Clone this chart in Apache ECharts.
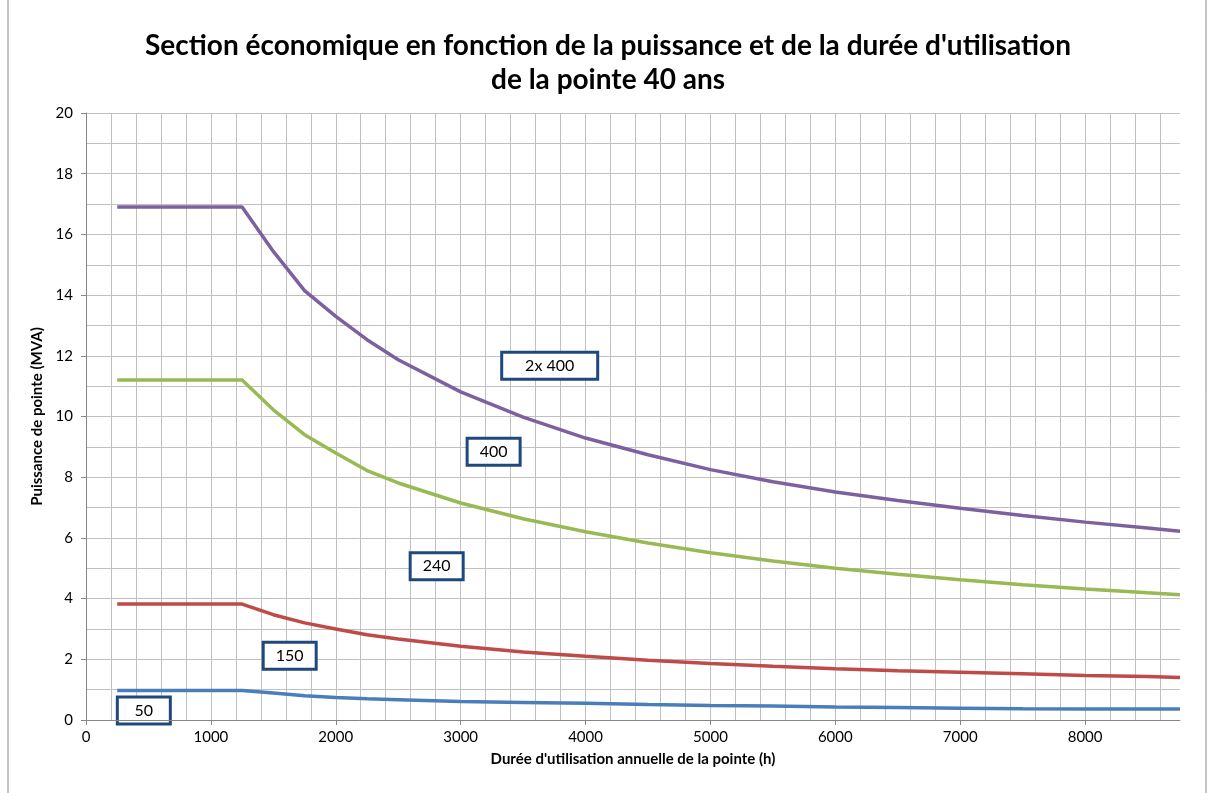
<!DOCTYPE html>
<html>
<head>
<meta charset="utf-8">
<title>Section économique</title>
<script src="https://cdn.jsdelivr.net/npm/echarts@6/dist/echarts.min.js"></script>
<style>
    html, body { margin: 0; padding: 0; background: #fff; }
    #chart { width: 1216px; height: 793px; }
</style>
</head>
<body>
<div id="chart"></div>
<script>
// durée d'utilisation (h)
const hours = [250, 1250, 1500, 1750, 2000, 2250, 2500, 3000, 3500, 4000, 4500, 5000, 5500, 6000, 6500, 7000, 7500, 8000, 8500, 8760];

// puissance de pointe (MVA) limite de chaque section
const limit50 = [0.97, 0.97, 0.89, 0.80, 0.745, 0.70, 0.67, 0.61, 0.58, 0.55, 0.51, 0.48, 0.46, 0.43, 0.41, 0.39, 0.37, 0.36, 0.36, 0.36];
const limit150 = [3.82, 3.82, 3.47, 3.20, 3.00, 2.81, 2.67, 2.43, 2.24, 2.10, 1.97, 1.86, 1.77, 1.69, 1.62, 1.57, 1.52, 1.47, 1.43, 1.40];
const limit240 = [11.2, 11.2, 10.22, 9.40, 8.80, 8.22, 7.81, 7.15, 6.63, 6.20, 5.83, 5.51, 5.24, 5.00, 4.80, 4.62, 4.46, 4.32, 4.19, 4.13];
const limit400 = [16.9, 16.9, 15.44, 14.15, 13.30, 12.53, 11.87, 10.81, 9.98, 9.29, 8.74, 8.25, 7.85, 7.51, 7.23, 6.98, 6.74, 6.52, 6.33, 6.22];

// étiquettes des sections
const sectionLabels = ['50', '150', '240', '400', '2x 400'];
const labelAnchors = [[463, 0.31], [1631, 2.12], [2808, 5.07], [3264, 8.84], [3713, 11.67]];

const FONT = 'Lato';

function pairs(ys) {
    return hours.map((h, i) => [h, ys[i]]);
}

function lineSeries(name, ys, color) {
    return {
        name: name,
        type: 'line',
        xAxisIndex: 0,
        data: pairs(ys),
        symbol: 'none',
        smooth: false,
        lineStyle: { color: color, width: 3.5 },
        itemStyle: { color: color },
        z: 3
    };
}

const chart = echarts.init(document.getElementById('chart'));

chart.setOption({
    animation: false,
    backgroundColor: '#fff',
    textStyle: { fontFamily: FONT },
    title: {
        text: "Section économique en fonction de la puissance et de la durée d'utilisation\nde la pointe 40 ans",
        left: 'center',
        top: 24,
        textStyle: {
            fontFamily: FONT,
            fontSize: 28,
            fontWeight: 'bold',
            color: '#000',
            lineHeight: 34
        }
    },
    grid: { left: 86, right: 36, top: 113, bottom: 73 },
    xAxis: [
        {
            type: 'value',
            min: 0,
            max: 8760,
            interval: 1000,
            name: "Durée d'utilisation annuelle de la pointe (h)",
            nameLocation: 'middle',
            nameGap: 32,
            nameTextStyle: { fontFamily: FONT, fontSize: 15, fontWeight: 'bold', color: '#000' },
            axisLine: { lineStyle: { color: '#868686' } },
            axisTick: { show: true, length: 5, lineStyle: { color: '#868686' } },
            axisLabel: {
                fontFamily: FONT, fontSize: 15, color: '#000', margin: 10, showMaxLabel: false,
                formatter: v => String(v)
            },
            splitLine: { show: true, showMaxLine: false, lineStyle: { color: '#c0c0c0' } }
        },
        {
            // quadrillage secondaire tous les 200 h
            type: 'value',
            min: 0,
            max: 8760,
            interval: 200,
            position: 'bottom',
            axisLine: { show: false },
            axisTick: { show: false },
            axisLabel: { show: false },
            splitLine: { show: true, showMaxLine: false, lineStyle: { color: '#c0c0c0' } }
        }
    ],
    yAxis: {
        type: 'value',
        min: 0,
        max: 20,
        interval: 2,
        name: 'Puissance de pointe (MVA)',
        nameLocation: 'middle',
        nameGap: 33,
        nameTextStyle: { fontFamily: FONT, fontSize: 15, fontWeight: 'bold', color: '#000' },
        axisLine: { show: true, lineStyle: { color: '#868686' } },
        axisTick: { show: true, length: 5, lineStyle: { color: '#868686' } },
        axisLabel: { fontFamily: FONT, fontSize: 15, color: '#000', margin: 13 },
        splitLine: { show: true, lineStyle: { color: '#c0c0c0' } },
        minorTick: { show: false, splitNumber: 2 },
        minorSplitLine: { show: true, lineStyle: { color: '#c0c0c0' } }
    },
    series: [
        lineSeries('50 / 150', limit50, '#4a7ebb'),
        lineSeries('150 / 240', limit150, '#be4b48'),
        lineSeries('240 / 400', limit240, '#98b954'),
        lineSeries('400 / 2x 400', limit400, '#7d60a0'),
        // série vide pour l'axe secondaire
        { type: 'line', xAxisIndex: 1, data: [], silent: true }
    ]
});

// cadre + étiquettes encadrées, placées en coordonnées du graphique
const graphics = [{
    type: 'rect',
    shape: { x: 8, y: -2, width: 1198, height: 800 },
    style: { fill: 'none', stroke: '#8c8c8c', lineWidth: 1 },
    silent: true,
    z: 0
}];

sectionLabels.forEach((txt, i) => {
    const p = chart.convertToPixel({ gridIndex: 0 }, labelAnchors[i]);
    const w = txt.length > 3 ? 96 : 53;
    const h = 27;
    graphics.push({
        type: 'group',
        x: p[0],
        y: p[1],
        z: 10,
        children: [
            {
                type: 'rect',
                shape: { x: -w / 2, y: -h / 2, width: w, height: h },
                style: { fill: '#fff', stroke: '#1f497d', lineWidth: 3 }
            },
            {
                type: 'text',
                x: 0,
                y: 0,
                style: {
                    text: txt,
                    fontFamily: FONT,
                    fontSize: 16,
                    fill: '#000',
                    align: 'center',
                    verticalAlign: 'middle'
                }
            }
        ]
    });
});

chart.setOption({ graphic: graphics });
</script>
</body>
</html>
